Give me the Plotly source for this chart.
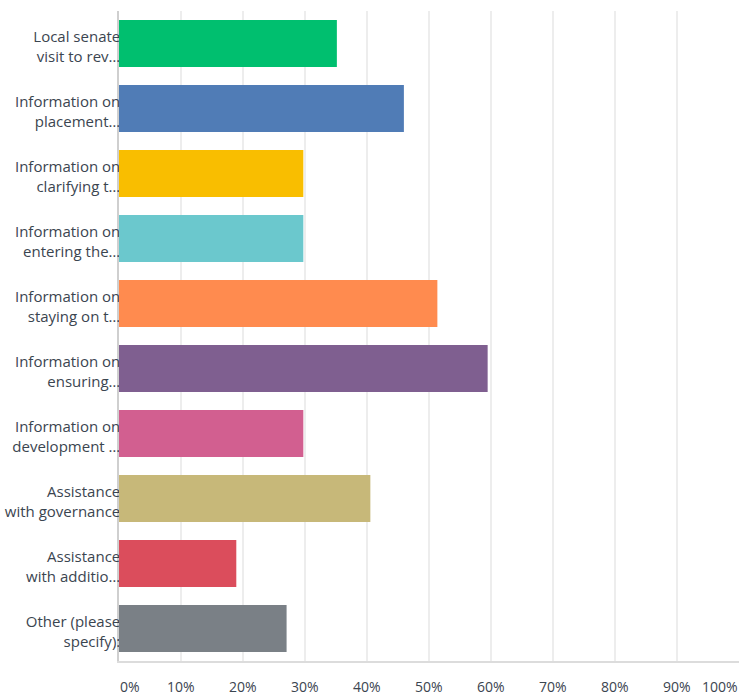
import plotly.graph_objects as go

# Response options (labels truncated as displayed)
categories = [
    "Local senate<br>visit to rev…",
    "Information on<br>placement…",
    "Information on<br>clarifying t…",
    "Information on<br>entering the…",
    "Information on<br>staying on t…",
    "Information on<br>ensuring…",
    "Information on<br>development …",
    "Assistance<br>with governance",
    "Assistance<br>with additio…",
    "Other (please<br>specify):",
]

# Share of respondents choosing each option (%)
percentages = [35.14, 45.95, 29.73, 29.73, 51.35, 59.46, 29.73, 40.54, 18.92, 27.03]

bar_colors = [
    "#00BF6F", "#507CB6", "#F9BE00", "#6BC8CD", "#FF8B4F",
    "#7F5F90", "#D25F90", "#C7B879", "#DB4D5C", "#7A8086",
]

x_tick_values = [0, 10, 20, 30, 40, 50, 60, 70, 80, 90, 100]
x_tick_labels = ["0%", "10%", "20%", "30%", "40%", "50%", "60%", "70%", "80%", "90%", "100%"]

text_color = "#3b4550"
font_family = "'Open Sans', Lato, sans-serif"

fig = go.Figure(
    go.Bar(
        x=percentages,
        y=categories,
        orientation="h",
        marker=dict(color=bar_colors, line=dict(width=0)),
        hoverinfo="skip",
    )
)

fig.update_layout(
    width=742,
    height=692,
    margin=dict(l=119, r=3, t=11, b=31, autoexpand=False),
    paper_bgcolor="white",
    plot_bgcolor="white",
    bargap=0.28,
    showlegend=False,
    font=dict(family=font_family, size=14, color=text_color),
)

fig.update_xaxes(
    range=[0, 100],
    tickvals=x_tick_values,
    showticklabels=False,
    showgrid=True,
    gridcolor="#ededed",
    gridwidth=2,
    zeroline=False,
    showline=True,
    linecolor="#dcdcdc",
    linewidth=1.5,
    fixedrange=True,
)

fig.update_yaxes(
    autorange="reversed",
    showgrid=False,
    zeroline=False,
    showline=True,
    linecolor="#cfcfcf",
    linewidth=1.5,
    ticks="",
    layer="below traces",
    ticklabelstandoff=-6,
    ticklabelshift=-3,
    tickfont=dict(family=font_family, size=15, color=text_color),
    automargin=False,
    fixedrange=True,
)

# Percentage labels under the value axis: the outer two hug the plot edges
for i, (val, lab) in enumerate(zip(x_tick_values, x_tick_labels)):
    if i == 0:
        anchor = "left"
    elif i == len(x_tick_values) - 1:
        anchor = "right"
    else:
        anchor = "center"
    fig.add_annotation(
        x=val,
        xref="x",
        y=0,
        yref="paper",
        yshift=-25,
        text=lab,
        showarrow=False,
        xanchor=anchor,
        yanchor="middle",
        borderpad=0,
        font=dict(family=font_family, size=14, color=text_color),
    )

fig.write_html("out.html")
